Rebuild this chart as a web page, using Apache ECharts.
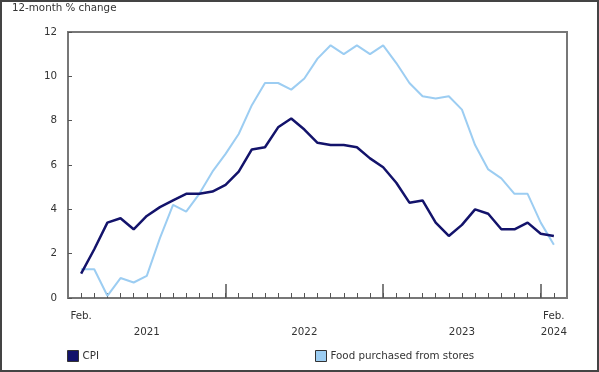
<!DOCTYPE html>
<html>
<head>
<meta charset="utf-8">
<script src="https://cdn.jsdelivr.net/npm/echarts@6/dist/echarts.min.js"></script>
<style>html,body{margin:0;padding:0;background:#fff}#c{width:599px;height:372px}</style>
</head>
<body>
<div id="c"></div>
<script>
// Months Feb 2021 .. Feb 2024
var months = ["2021-02","2021-03","2021-04","2021-05","2021-06","2021-07","2021-08","2021-09","2021-10","2021-11","2021-12",
"2022-01","2022-02","2022-03","2022-04","2022-05","2022-06","2022-07","2022-08","2022-09","2022-10","2022-11","2022-12",
"2023-01","2023-02","2023-03","2023-04","2023-05","2023-06","2023-07","2023-08","2023-09","2023-10","2023-11","2023-12",
"2024-01","2024-02"];
var cpi = [1.1,2.2,3.4,3.6,3.1,3.7,4.1,4.4,4.7,4.7,4.8,
5.1,5.7,6.7,6.8,7.7,8.1,7.6,7.0,6.9,6.9,6.8,6.3,
5.9,5.2,4.3,4.4,3.4,2.8,3.3,4.0,3.8,3.1,3.1,3.4,
2.9,2.8];
var food = [1.3,1.3,0.1,0.9,0.7,1.0,2.7,4.2,3.9,4.7,5.7,
6.5,7.4,8.7,9.7,9.7,9.4,9.9,10.8,11.4,11.0,11.4,11.0,
11.4,10.6,9.7,9.1,9.0,9.1,8.5,6.9,5.8,5.4,4.7,4.7,
3.4,2.4];
var yTicks = [0,2,4,6,8,10,12];
var seriesNames = ["CPI","Food purchased from stores"];
var yTitle = "12-month % change";

// Axis spans one extra month on each side (Jan 2021 .. Mar 2024)
var cats = ["2021-01"].concat(months).concat(["2024-03"]);
function pad(a){ return [null].concat(a).concat([null]); }

var font = "DejaVu Sans, Verdana, sans-serif";
var fs = 10.3;
var chart = echarts.init(document.getElementById('c'), null, {renderer:'canvas'});
chart.setOption({
  animation:false,
  backgroundColor:'#fff',
  grid:{left:68,right:32,top:32,bottom:74,show:true,borderColor:'#777',borderWidth:2,backgroundColor:'transparent'},
  graphic:[
    {type:'rect',shape:{x:1,y:1,width:597,height:370},style:{fill:'none',stroke:'#444',lineWidth:2},silent:true},
    {type:'text',left:12,top:3,style:{text:yTitle,font:fs+'px '+font,fill:'#333'}}
  ],
  xAxis:[{
    type:'category',data:cats,boundaryGap:false,
    axisLine:{lineStyle:{color:'#777',width:2}},
    axisTick:{inside:true,length:5,lineStyle:{color:'#555',width:1},
      interval:function(i){return i>0 && i<cats.length-1;}},
    axisLabel:{interval:0,margin:10,color:'#333',fontFamily:font,fontSize:fs,lineHeight:16,
      formatter:function(v,i){
        if(v==='2021-02') return 'Feb.';
        if(v==='2024-02') return 'Feb.\n2024';
        if(v.slice(5)==='07') return '\n'+v.slice(0,4);
        return '';
      }},
    splitLine:{show:false}
  },{
    type:'category',data:cats,boundaryGap:false,position:'bottom',
    axisLine:{show:false},
    axisTick:{inside:true,length:14,lineStyle:{color:'#555',width:1.5},
      interval:function(i){return i>0 && cats[i].slice(5)==='01';}},
    axisLabel:{show:false},splitLine:{show:false}
  }],
  yAxis:{
    type:'value',min:yTicks[0],max:yTicks[yTicks.length-1],interval:2,
    axisLine:{show:true,lineStyle:{color:'#777',width:2}},
    axisTick:{show:true,inside:true,length:4,lineStyle:{color:'#555'}},
    axisLabel:{color:'#333',fontFamily:font,fontSize:fs,margin:11},
    splitLine:{show:false}
  },
  legend:[{
    data:[{name:seriesNames[0],icon:'rect'}],left:67,top:350,padding:0,itemWidth:11,itemHeight:11,itemGap:5,
    textStyle:{color:'#333',fontFamily:font,fontSize:fs,padding:[0,0,0,-1]},
    itemStyle:{borderColor:'#333',borderWidth:1}
  },{
    data:[{name:seriesNames[1],icon:'rect'}],left:315,top:350,padding:0,itemWidth:11,itemHeight:11,itemGap:5,
    textStyle:{color:'#333',fontFamily:font,fontSize:fs,padding:[0,0,0,-1]},
    itemStyle:{borderColor:'#333',borderWidth:1}
  }],
  series:[{
    name:seriesNames[1],type:'line',data:pad(food),symbol:'none',
    lineStyle:{color:'#9ccdf2',width:2},itemStyle:{color:'#9ccdf2'}
  },{
    name:seriesNames[0],type:'line',data:pad(cpi),symbol:'none',
    lineStyle:{color:'#13136b',width:2.5},itemStyle:{color:'#13136b'}
  }]
});
</script>
</body>
</html>
